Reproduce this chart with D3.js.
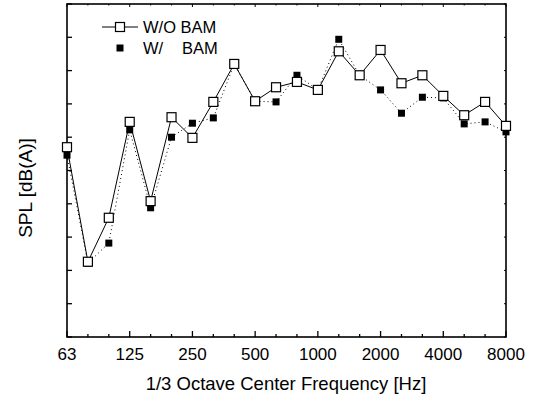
<!DOCTYPE html>
<html>
<head>
<script src="https://d3js.org/d3.v7.min.js"></script>
<style>
 body {margin:0; background:#fff;}
 svg {display:block;}
 text {font-family: "Liberation Sans", Arial, sans-serif; fill:#000;}
</style>
</head>
<body>
<div id="contenedor"></div>
<script>
// 1/3 octave centre frequencies
var freqs = ["63","80","100","125","160","200","250","315","400","500","630","800",
             "1000","1250","1600","2000","2500","3150","4000","5000","6300","8000"];
var octaveLabels = ["63","125","250","500","1000","2000","4000","8000"];
// SPL (y axis has no numbers, arbitrary dB)
var sinBam = [58.5,41.3,47.9,62.3,50.4,63.0,59.9,65.3,71.0,65.4,67.5,68.3,
              67.1,72.9,69.3,73.1,68.1,69.3,66.2,63.3,65.3,61.7];
var conBam = [57.3,41.1,44.1,61.1,49.4,60.0,62.1,62.9,71.0,65.4,65.3,69.3,
              67.1,74.7,69.3,67.1,63.6,66.0,65.9,62.0,62.3,60.8];
var yTicks = [30,35,40,45,50,55,60,65,70,75,80];

var width = 539, height = 401;
var m = {top:4, right:33, bottom:64, left:67};

var svg = d3.select("#contenedor").append("svg")
            .attr("width", width).attr("height", height);

var x = d3.scalePoint().domain(freqs).range([m.left, width - m.right]);
var y = d3.scaleLinear().domain([30, 80]).range([height - m.bottom, m.top]);

// frame
svg.append("rect")
   .attr("x", m.left).attr("y", m.top)
   .attr("width", width - m.left - m.right)
   .attr("height", height - m.top - m.bottom)
   .attr("fill", "none").attr("stroke", "#000").attr("stroke-width", 1.6);

// x ticks (inward), major at octaves
var xb = height - m.bottom;
svg.selectAll(".xt").data(freqs).enter().append("line")
   .attr("x1", d => x(d)).attr("x2", d => x(d))
   .attr("y1", xb).attr("y2", d => xb - (octaveLabels.includes(d) ? 6 : 3))
   .attr("stroke", "#000").attr("stroke-width", 1.3);
svg.selectAll(".xtt").data(freqs).enter().append("line")
   .attr("x1", d => x(d)).attr("x2", d => x(d))
   .attr("y1", m.top).attr("y2", d => m.top + (octaveLabels.includes(d) ? 3 : 1.5))
   .attr("stroke", "#000").attr("stroke-width", 1);
svg.selectAll(".xl").data(octaveLabels).enter().append("text")
   .attr("x", d => x(d)).attr("y", 360)
   .attr("text-anchor", "middle").attr("font-size", 17)
   .text(d => d);

// y ticks (inward), no labels
svg.selectAll(".yt").data(yTicks).enter().append("line")
   .attr("x1", m.left).attr("x2", m.left + 5)
   .attr("y1", d => y(d)).attr("y2", d => y(d))
   .attr("stroke", "#000").attr("stroke-width", 1.3);
svg.selectAll(".ytr").data(yTicks).enter().append("line")
   .attr("x1", width - m.right).attr("x2", width - m.right - 2)
   .attr("y1", d => y(d)).attr("y2", d => y(d))
   .attr("stroke", "#000").attr("stroke-width", 1);

// axis titles
svg.append("text")
   .attr("x", 286).attr("y", 390)
   .attr("text-anchor", "middle").attr("font-size", 18.5)
   .text("1/3 Octave Center Frequency [Hz]");
svg.append("text")
   .attr("transform", "translate(32,188) rotate(-90)")
   .attr("text-anchor", "middle").attr("font-size", 19)
   .text("SPL [dB(A)]");

// W/ BAM : dotted line + filled squares
var line = d3.line().x((d, i) => x(freqs[i])).y(d => y(d));
svg.append("path").datum(conBam)
   .attr("d", line).attr("fill", "none")
   .attr("stroke", "#000").attr("stroke-width", 1)
   .attr("stroke-dasharray", "1,3");
svg.selectAll(".con").data(conBam).enter().append("rect")
   .attr("x", (d, i) => x(freqs[i]) - 3.5).attr("y", d => y(d) - 3.5)
   .attr("width", 7).attr("height", 7).attr("fill", "#000");

// W/O BAM : solid line + open squares
svg.append("path").datum(sinBam)
   .attr("d", line).attr("fill", "none")
   .attr("stroke", "#000").attr("stroke-width", 1);
svg.selectAll(".sin").data(sinBam).enter().append("rect")
   .attr("x", (d, i) => x(freqs[i]) - 4.5).attr("y", d => y(d) - 4.5)
   .attr("width", 9).attr("height", 9)
   .attr("fill", "#fff").attr("stroke", "#000").attr("stroke-width", 1.2);

// legend
var lg = svg.append("g");
lg.append("line").attr("x1", 102).attr("x2", 138).attr("y1", 27).attr("y2", 27)
  .attr("stroke", "#000").attr("stroke-width", 1);
lg.append("rect").attr("x", 115.5).attr("y", 22.5).attr("width", 9).attr("height", 9)
  .attr("fill", "#fff").attr("stroke", "#000").attr("stroke-width", 1.2);
lg.append("text").attr("x", 143).attr("y", 33).attr("font-size", 16.5).text("W/O BAM");
lg.append("rect").attr("x", 116.5).attr("y", 44.5).attr("width", 7).attr("height", 7)
  .attr("fill", "#000");
lg.append("text").attr("x", 143).attr("y", 54).attr("font-size", 16.5).text("W/");
lg.append("text").attr("x", 182).attr("y", 54).attr("font-size", 16.5).text("BAM");
</script>
</body>
</html>
